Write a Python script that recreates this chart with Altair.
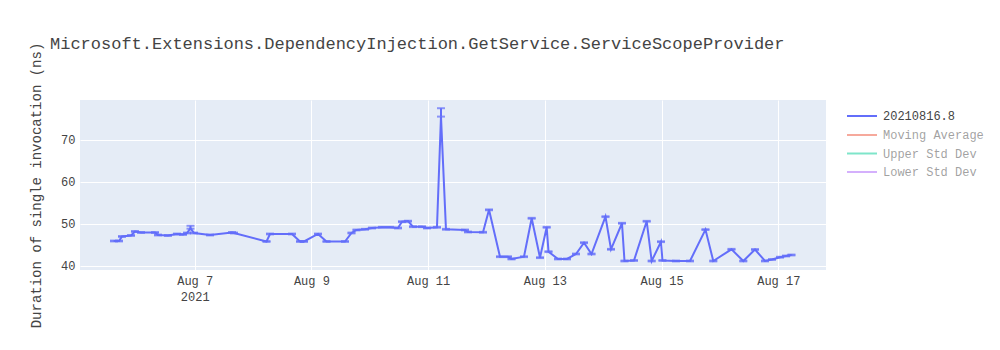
import altair as alt
import pandas as pd

chart_title = "Microsoft.Extensions.DependencyInjection.GetService.ServiceScopeProvider"
y_title = "Duration of single invocation (ns)"
run_name = "20210816.8"
hidden_series = ["Moving Average", "Upper Std Dev", "Lower Std Dev"]
hidden_colors = ["#EF553B", "#00CC96", "#AB63FA"]

timestamps = [
    "2021-08-05T14:49", "2021-08-05T16:52", "2021-08-05T18:06", "2021-08-05T21:48",
    "2021-08-05T23:27", "2021-08-06T01:55", "2021-08-06T07:40", "2021-08-06T08:54",
    "2021-08-06T13:01", "2021-08-06T16:43", "2021-08-06T19:11", "2021-08-06T20:50",
    "2021-08-06T22:16", "2021-08-06T23:43", "2021-08-07T06:18", "2021-08-07T15:20",
    "2021-08-07T16:10", "2021-08-08T05:32", "2021-08-08T06:58", "2021-08-08T16:01",
    "2021-08-08T19:18", "2021-08-08T20:57", "2021-08-09T02:42", "2021-08-09T06:12",
    "2021-08-09T13:48", "2021-08-09T16:29", "2021-08-09T18:32", "2021-08-09T22:02",
    "2021-08-10T00:55", "2021-08-10T05:01", "2021-08-10T08:19", "2021-08-10T11:36",
    "2021-08-10T13:15", "2021-08-10T15:43", "2021-08-10T17:46", "2021-08-10T21:28",
    "2021-08-10T23:32", "2021-08-11T03:38", "2021-08-11T05:17", "2021-08-11T07:20",
    "2021-08-11T15:09", "2021-08-11T16:23", "2021-08-11T22:34", "2021-08-12T01:02",
    "2021-08-12T05:33", "2021-08-12T08:50", "2021-08-12T10:17", "2021-08-12T15:25",
    "2021-08-12T18:35", "2021-08-12T22:00", "2021-08-13T00:45", "2021-08-13T01:30",
    "2021-08-13T05:24", "2021-08-13T09:06", "2021-08-13T12:48", "2021-08-13T16:06",
    "2021-08-13T19:11", "2021-08-14T00:56", "2021-08-14T03:12", "2021-08-14T07:43",
    "2021-08-14T08:45", "2021-08-14T12:39", "2021-08-14T17:53", "2021-08-14T19:56",
    "2021-08-14T23:45", "2021-08-15T00:22", "2021-08-15T05:56", "2021-08-15T11:41",
    "2021-08-15T18:03", "2021-08-15T21:16", "2021-08-16T04:45", "2021-08-16T09:36",
    "2021-08-16T14:25", "2021-08-16T18:32", "2021-08-16T21:24", "2021-08-17T00:42",
    "2021-08-17T03:10", "2021-08-17T05:25",
]

durations = [
    45.87, 45.87, 46.95, 47.18,
    48.14, 47.90, 47.90, 47.30,
    47.18, 47.54, 47.42, 47.78,
    48.90, 47.78, 47.30, 47.90,
    47.78, 45.75, 47.54, 47.54,
    45.75, 45.75, 47.54, 45.75,
    45.75, 47.78, 48.50, 48.66,
    48.97, 49.14, 49.14, 48.97,
    50.48, 50.60, 49.28, 49.28,
    48.97, 49.14, 75.54, 48.66,
    48.50, 48.02, 47.95, 53.30,
    42.12, 42.12, 41.58, 42.12,
    51.29, 41.89, 49.14, 43.32,
    41.58, 41.58, 42.77, 45.47,
    42.77, 51.67, 43.89, 50.10,
    41.10, 41.22, 50.57, 41.10,
    45.70, 41.22, 41.10, 41.10,
    48.59, 41.10, 43.89, 41.10,
    43.84, 41.10, 41.46, 42.00,
    42.29, 42.53,
]

err_plus = [0.1] * len(durations)
err_minus = [0.1] * len(durations)
err_plus[12] = 0.6
err_plus[38] = 2.0
err_minus[38] = 0.0

df = pd.DataFrame({
    "time": timestamps,
    "duration": durations,
    "hi": [d + e for d, e in zip(durations, err_plus)],
    "lo": [d - e for d, e in zip(durations, err_minus)],
    "series": run_name,
})
hidden_df = pd.DataFrame({"series": hidden_series})

FONT = "Liberation Mono"
TXT = "#444444"
BLUE = "#636efa"

tick_days = [7, 9, 11, 13, 15, 17]
x_ticks = [alt.DateTime(year=2021, month=8, date=d) for d in tick_days]
x_scale = alt.Scale(
    domain=[alt.DateTime(year=2021, month=8, date=5, hours=0, minutes=50),
            alt.DateTime(year=2021, month=8, date=17, hours=19, minutes=37)],
    nice=False,
)
y_scale = alt.Scale(domain=[38.95, 79.5], nice=False, zero=False)

x_axis = alt.Axis(
    values=x_ticks, title=None, grid=True, gridColor="white", gridWidth=1,
    ticks=False, domain=False, labelFont=FONT, labelFontSize=12, labelColor=TXT,
    labelPadding=5, labelLineHeight=16, labelBaseline="top",
    labelExpr="datum.index == 0 ? [timeFormat(datum.value, '%b %-d'), '2021'] : timeFormat(datum.value, '%b %-d')",
)
y_axis = alt.Axis(
    values=[40, 50, 60, 70], title=y_title, grid=True, gridColor="white", gridWidth=1,
    ticks=False, domain=False, labelFont=FONT, labelFontSize=12, labelColor=TXT,
    labelPadding=5, titleFont=FONT, titleFontSize=14, titleColor=TXT,
    titleFontWeight="normal", titleX=-40, titleY=85, titleAngle=-90,
    titleBaseline="alphabetic", titleAlign="center",
)

base = alt.Chart(df)

line = base.mark_line(strokeWidth=2).encode(
    x=alt.X("time:T", scale=x_scale, axis=x_axis),
    y=alt.Y("duration:Q", scale=y_scale, axis=y_axis),
    color=alt.Color(
        "series:N",
        scale=alt.Scale(domain=[run_name], range=[BLUE]),
        legend=alt.Legend(
            title=None, orient="none", legendX=766, legendY=9,
            symbolType="M-1,0H4", symbolSize=144, symbolStrokeWidth=2,
            labelOffset=23, labelFont=FONT, labelFontSize=12, labelColor=TXT,
            rowPadding=7,
        ),
    ),
)

rules = base.mark_rule(strokeWidth=2, color=BLUE).encode(
    x="time:T", y="lo:Q", y2="hi:Q"
)
caps_hi = base.mark_tick(orient="horizontal", size=8, thickness=2, color=BLUE).encode(
    x="time:T", y="hi:Q"
)
caps_lo = base.mark_tick(orient="horizontal", size=8, thickness=2, color=BLUE).encode(
    x="time:T", y="lo:Q"
)

hidden = alt.Chart(hidden_df).transform_filter("false").mark_line().encode(
    x=alt.value(0), y=alt.value(0),
    stroke=alt.Stroke(
        "series:N",
        scale=alt.Scale(domain=hidden_series, range=hidden_colors),
        legend=alt.Legend(
            title=None, orient="none", legendX=766, legendY=28,
            symbolType="M-1,0H4", symbolSize=144, symbolStrokeWidth=2,
            symbolOpacity=0.5, labelOpacity=0.5,
            labelOffset=23, labelFont=FONT, labelFontSize=12, labelColor=TXT,
            rowPadding=5.5,
        ),
    ),
)

chart = alt.layer(line, rules, caps_hi, caps_lo, hidden).resolve_scale(
    color="independent", stroke="independent"
).properties(
    width=746,
    height=170,
    autosize=alt.AutoSizeParams(type="none"),
    padding={"left": 80, "top": 100, "right": 174, "bottom": 80},
    background="white",
    title=alt.TitleParams(
        chart_title, anchor="start", frame="group", dx=-30, offset=-24,
        baseline="alphabetic", font=FONT, fontSize=17, color=TXT, fontWeight="normal",
    ),
).configure_view(stroke=None, fill="#E5ECF6")

chart.save("out.html", embed_options={"renderer": "svg", "actions": False})
